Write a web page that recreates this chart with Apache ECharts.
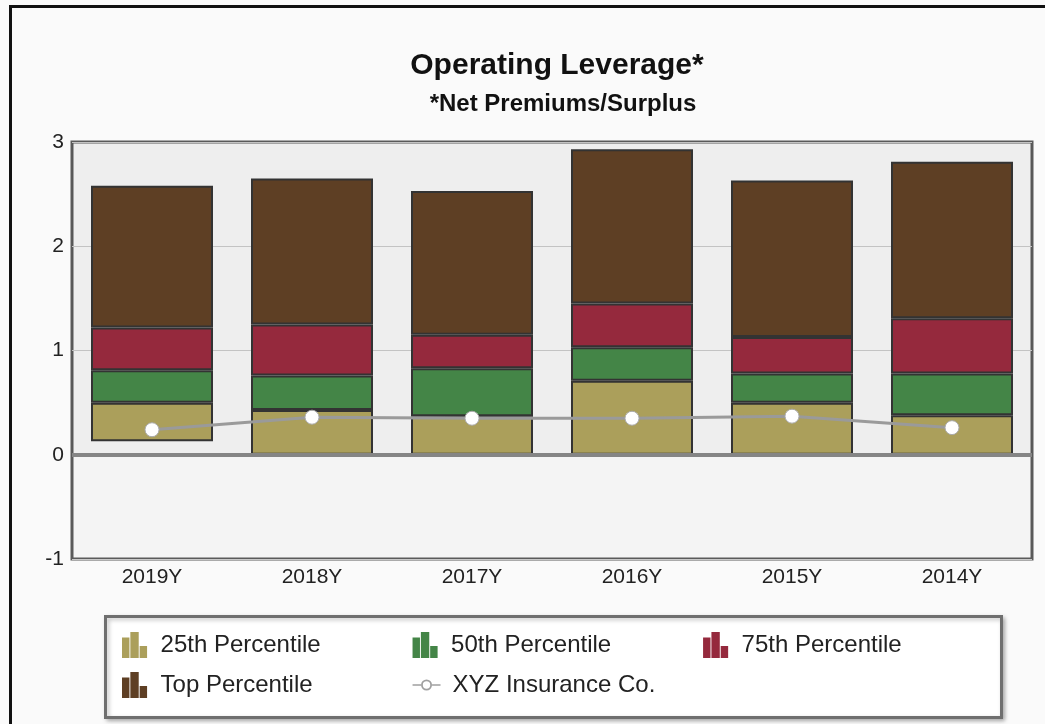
<!DOCTYPE html>
<html>
<head>
<meta charset="utf-8">
<script src="https://cdn.jsdelivr.net/npm/echarts@6/dist/echarts.min.js"></script>
<style>
  html, body { margin: 0; padding: 0; width: 1045px; height: 724px; overflow: hidden; background: #fafafa; }
  #frame { position: absolute; left: 9px; top: 5px; width: 2000px; height: 2000px; border-left: 3px solid #111; border-top: 3px solid #111; }
  #chart { position: absolute; left: 0; top: 0; width: 1045px; height: 724px; }
</style>
</head>
<body>
<div id="frame"></div>
<div id="chart"></div>
<script>
// ---- data ----
const categories = ['2019Y', '2018Y', '2017Y', '2016Y', '2015Y', '2014Y'];
const baseBottom = [0.13, 0, 0, 0, 0, 0];          // bottom of the floating bar
const p25Top     = [0.50, 0.43, 0.37, 0.71, 0.50, 0.38];
const p50Top     = [0.81, 0.76, 0.83, 1.03, 0.78, 0.78];
const p75Top     = [1.22, 1.25, 1.15, 1.45, 1.13, 1.31];
const topTop     = [2.58, 2.65, 2.53, 2.93, 2.63, 2.81];
const xyz        = [0.24, 0.36, 0.35, 0.35, 0.37, 0.26];
const yTicks     = [-1, 0, 1, 2, 3];

const seriesNames = ['25th Percentile', '50th Percentile', '75th Percentile', 'Top Percentile', 'XYZ Insurance Co.'];
const colors = ['#ab9f5b', '#448547', '#95293d', '#5e3f24'];
const FONT = 'Liberation Sans, Arial, sans-serif';

const diff = (a, b) => a.map((v, i) => +(v - b[i]).toFixed(4));
const segs = [
  diff(p25Top, baseBottom),
  diff(p50Top, p25Top),
  diff(p75Top, p50Top),
  diff(topTop, p75Top)
];

const barIcon = 'path://M0,6h8v22h-8z M9,0h9v28h-9z M19,15h8v13h-8z';
const lineIcon = 'path://M0,5.2h8.5v1.6h-8.5z M19.5,5.2h8.5v1.6h-8.5z ' +
  'M8.5,6a5.5,5.5 0 1,0 11,0a5.5,5.5 0 1,0 -11,0z M10.3,6a3.7,3.7 0 1,1 7.4,0a3.7,3.7 0 1,1 -7.4,0z';

const chart = echarts.init(document.getElementById('chart'), null, { renderer: 'canvas' });

const barSeries = segs.map((d, i) => ({
  name: seriesNames[i],
  type: 'bar',
  stack: 'p',
  barWidth: 122,
  data: d,
  itemStyle: { color: colors[i], borderColor: '#333', borderWidth: 2 },
  emphasis: { disabled: true }
}));

const option = {
  animation: false,
  backgroundColor: 'transparent',
  title: [
    { text: 'Operating Leverage*', left: 552, top: 45, textAlign: 'center',
      textStyle: { fontFamily: FONT, fontWeight: 'bold', fontSize: 30, lineHeight: 32, color: '#111' } },
    { text: '*Net Premiums/Surplus', left: 558, top: 86, textAlign: 'center',
      textStyle: { fontFamily: FONT, fontWeight: 'bold', fontSize: 24, lineHeight: 26, color: '#111' } }
  ],
  graphic: [
    { type: 'rect', left: 104, top: 615, z: 0,
      shape: { width: 896, height: 101 },
      style: { fill: '#fff', stroke: '#6f6f6f', lineWidth: 3, shadowBlur: 4, shadowColor: 'rgba(0,0,0,0.25)', shadowOffsetX: 2, shadowOffsetY: 2 } }
  ],
  legend: {
    left: 122, top: 632, width: 880, padding: 0,
    itemGap: 14, itemWidth: 28, itemHeight: 26,
    selectedMode: false,
    symbolKeepAspect: true,
    data: [
      { name: seriesNames[0], icon: barIcon, itemStyle: { borderWidth: 0 } },
      { name: seriesNames[1], icon: barIcon, itemStyle: { borderWidth: 0 } },
      { name: seriesNames[2], icon: barIcon, itemStyle: { borderWidth: 0 } },
      { name: seriesNames[3], icon: barIcon, itemStyle: { borderWidth: 0 } },
      { name: seriesNames[4], icon: lineIcon, itemStyle: { color: '#a0a0a0', borderWidth: 0 } }
    ],
    textStyle: { fontFamily: FONT, fontSize: 24, color: '#222', width: 238, lineHeight: 26, padding: [0, 0, 0, 7] }
  },
  grid: {
    left: 72, right: 13, top: 142, bottom: 165,
    show: true, backgroundColor: '#f4f4f4', borderColor: '#5a5a5a', borderWidth: 3
  },
  xAxis: {
    type: 'category',
    data: categories,
    axisLine: { show: false },
    axisTick: { show: false },
    axisLabel: { fontFamily: FONT, fontSize: 21, color: '#222', margin: 8 }
  },
  yAxis: {
    type: 'value',
    min: yTicks[0], max: yTicks[yTicks.length - 1], interval: 1,
    axisLine: { show: false },
    axisTick: { show: false },
    axisLabel: { fontFamily: FONT, fontSize: 21, color: '#222', margin: 8 },
    splitLine: { show: true, lineStyle: { color: '#c8c8c8', width: 1 } }
  },
  series: [
    {
      name: 'base',
      type: 'bar',
      stack: 'p',
      barWidth: 122,
      data: baseBottom,
      itemStyle: { color: 'transparent', borderWidth: 0 },
      emphasis: { disabled: true },
      markArea: {
        silent: true,
        itemStyle: { color: 'rgba(0,0,0,0.022)' },
        data: [[{ yAxis: 0 }, { yAxis: 3 }]]
      },
      markLine: {
        silent: true,
        symbol: ['none', 'none'],
        label: { show: false },
        lineStyle: { color: '#858585', width: 4, type: 'solid' },
        data: [{ yAxis: 0 }]
      }
    },
    ...barSeries,
    {
      name: seriesNames[4],
      type: 'line',
      data: xyz,
      z: 5,
      symbol: 'circle',
      symbolSize: 14,
      lineStyle: { color: '#9a9a9a', width: 3 },
      itemStyle: { color: '#ffffff', borderColor: '#aaa', borderWidth: 1 },
      emphasis: { disabled: true }
    }
  ]
};
chart.setOption(option);
</script>
</body>
</html>
